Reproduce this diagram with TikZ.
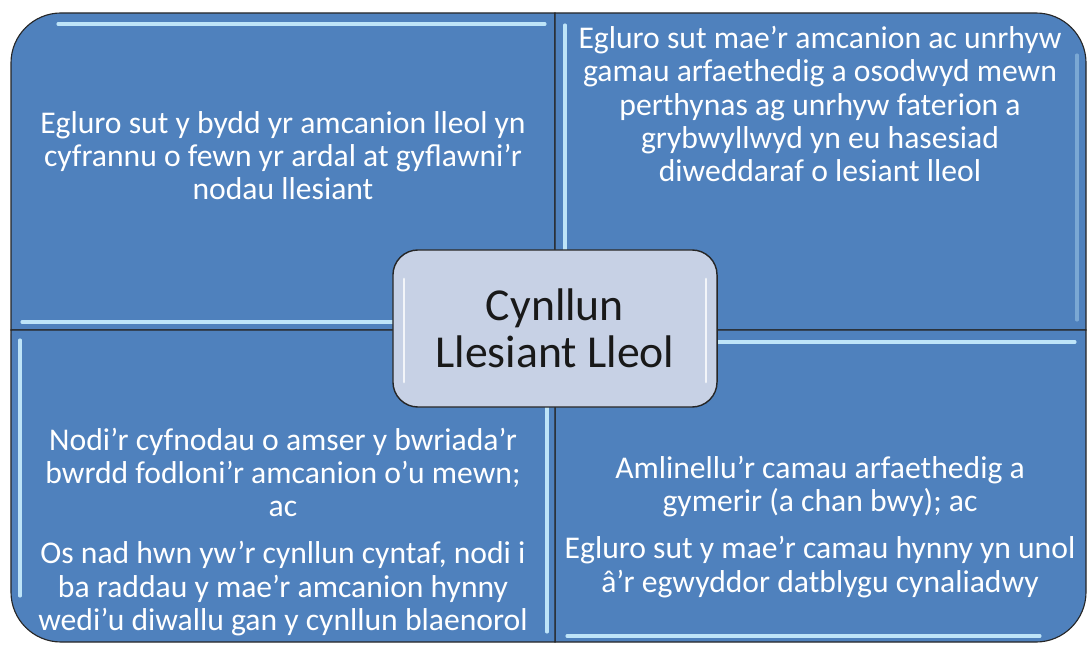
\documentclass[tikz,border=0pt]{standalone}
\usepackage{fontspec}
\setmainfont{Carlito}
\definecolor{quadblue}{RGB}{79,129,189}
\definecolor{hubfill}{RGB}{199,209,229}
\definecolor{glintcol}{RGB}{190,228,248}
\tikzset{quad/.style={fill=quadblue,draw=black!85,line width=0.8pt}}
\tikzset{glint/.style={draw=glintcol,line width=2.2pt,line cap=round}}
\tikzset{blurb/.style={text=white,align=center,font=\fontsize{22.5}{23.5}\selectfont}}
\tikzset{hub/.style={rectangle,rounded corners=0.625cm,draw=black!85,line width=1pt,fill=hubfill,minimum width=8.1cm,minimum height=3.925cm,align=center,text=black!90,font=\fontsize{32.5}{33.5}\selectfont}}

\begin{document}
\begin{tikzpicture}[x=0.025cm,y=0.025cm]
\useasboundingbox (0,0) rectangle (1089,644);

% four quarters
\draw[quad] (11,314) -- (11,581) arc[start angle=180,end angle=90,radius=1.25cm] -- (555,631) -- (555,314) -- cycle;
\draw[quad] (555,631) -- (1036,631) arc[start angle=90,end angle=0,radius=1.25cm] -- (1086,314) -- (555,314) -- cycle;
\draw[quad] (555,314) -- (1086,314) -- (1086,52) arc[start angle=0,end angle=-90,radius=1.25cm] -- (555,2) -- cycle;
\draw[quad] (11,314) -- (555,314) -- (555,2) -- (61,2) arc[start angle=270,end angle=180,radius=1.25cm] -- cycle;

% highlights
\draw[glint] (58,620) -- (545,620);
\draw[glint] (22,322) -- (545,322);
\draw[glint] (565,619) -- (565,324);
\draw[glint,opacity=0.4] (1077,589) -- (1077,324);
\draw[glint] (20,304) -- (20,48);
\draw[glint] (547,304) -- (547,12);
\draw[glint] (565,302) -- (1075,302);
\draw[glint] (567,8) -- (1040,8);

\node[blurb] (tl) at (283,488) {Egluro sut y bydd yr amcanion lleol yn\\cyfrannu o fewn yr ardal at gyflawni’r\\nodau llesiant};
\node[blurb] (tr) at (820,540) {Egluro sut mae’r amcanion ac unrhyw\\gamau arfaethedig a osodwyd mewn\\perthynas ag unrhyw faterion a\\grybwyllwyd yn eu hasesiad\\diweddaraf o lesiant lleol};
\node[blurb] (bl) at (283,112) {Nodi’r cyfnodau o amser y bwriada’r\\bwrdd fodloni’r amcanion o’u mewn;\\ac\\[10pt]Os nad hwn yw’r cynllun cyntaf, nodi i\\ba raddau y mae’r amcanion hynny\\wedi’u diwallu gan y cynllun blaenorol};
\node[blurb] (br) at (820,117) {Amlinellu’r camau arfaethedig a\\gymerir (a chan bwy); ac\\[10pt]Egluro sut y mae’r camau hynny yn unol\\â’r egwyddor datblygu cynaliadwy};

% centre
\node[hub] (plan) at (555,315.5) {Cynllun\\Llesiant Lleol};
\draw[white,line width=2pt,line cap=round,opacity=0.8] (404,365) -- (404,262);
\draw[white,line width=2pt,line cap=round,opacity=0.8] (706,365) -- (706,262);

\end{tikzpicture}
\end{document}
